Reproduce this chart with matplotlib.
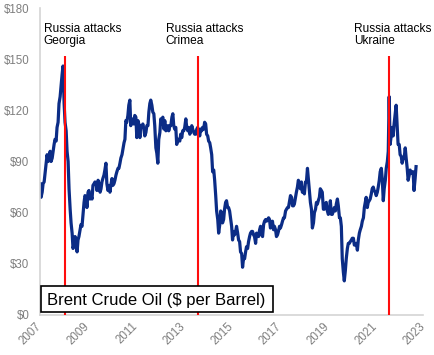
import matplotlib.pyplot as plt
import pandas as pd
from matplotlib.patches import Rectangle

brent_2007 = [77, 69, 72, 77, 78, 83, 89, 94, 90, 92]  # from August
brent_2008 = [96, 90, 92, 96, 100, 103, 102, 110, 113, 124, 128, 134,
              141, 146, 124, 113, 108, 96, 90, 74, 62, 54, 48, 39]
brent_2009 = [42, 46, 44, 37, 44, 46, 50, 53, 52, 58, 66, 70,
              69, 63, 72, 73, 68, 70, 68, 76, 77, 78, 77, 73]
brent_2010 = [79, 77, 72, 74, 78, 80, 82, 85, 89, 77, 73, 76,
              72, 76, 80, 76, 77, 79, 82, 84, 86, 86, 89, 92]
brent_2011 = [94, 97, 101, 103, 114, 113, 117, 123, 126, 111, 115, 113,
              112, 117, 116, 104, 114, 112, 104, 111, 110, 112, 109, 105]
brent_2012 = [107, 111, 111, 119, 124, 126, 123, 119, 118, 111, 98, 95,
              89, 103, 107, 115, 114, 116, 109, 114, 108, 109, 111, 108]
brent_2013 = [111, 111, 116, 118, 111, 109, 110, 100, 103, 103, 102, 106,
              104, 108, 108, 110, 115, 110, 108, 110, 106, 108, 111, 109]
brent_2014 = [107, 106, 106, 109, 110, 108, 105, 109, 108, 110, 109, 113,
              112, 106, 105, 102, 101, 98, 94, 84, 85, 79, 70, 61]
brent_2015 = [56, 48, 53, 61, 60, 54, 56, 62, 66, 67, 63, 63,
              61, 57, 52, 44, 49, 47, 49, 52, 48, 44, 43, 37]
brent_2016 = [36, 28, 34, 33, 37, 40, 39, 43, 46, 48, 49, 49,
              47, 46, 42, 48, 47, 46, 50, 52, 47, 46, 53, 55]
brent_2017 = [56, 55, 56, 57, 56, 51, 53, 55, 50, 52, 50, 46,
              47, 49, 52, 51, 53, 55, 57, 57, 61, 62, 63, 63]
brent_2018 = [67, 70, 69, 64, 64, 65, 69, 72, 75, 79, 77, 74,
              78, 72, 73, 71, 78, 78, 86, 80, 73, 66, 62, 51]
brent_2019 = [54, 60, 62, 66, 65, 67, 69, 74, 73, 72, 62, 62,
              65, 66, 61, 59, 60, 67, 59, 59, 61, 63, 61, 65]
brent_2020 = [68, 64, 57, 57, 52, 33, 25, 20, 26, 33, 39, 42,
              42, 43, 44, 45, 45, 41, 41, 42, 38, 44, 48, 50]
brent_2021 = [52, 55, 57, 63, 66, 69, 63, 66, 67, 68, 71, 74,
              75, 73, 72, 70, 72, 75, 79, 84, 86, 80, 67, 74]
brent_2022 = [79, 86, 90, 96, 128, 100, 105, 110, 105, 112, 118, 123,
              111, 100, 100, 94, 93, 89, 92, 92, 98, 92, 86, 79]
brent_2023 = [82, 85, 83, 84, 84, 73, 80, 87]  # to mid-April

events = ['Russia attacks\nGeorgia', 'Russia attacks\nCrimea',
          'Russia attacks\nUkraine']
event_dates = ['2008-08-08', '2014-02-27', '2022-02-24']

tick_years = [2007, 2009, 2011, 2013, 2015, 2017, 2019, 2021, 2023]
y_ticks = [0, 30, 60, 90, 120, 150, 180]

BLUE = '#0b2c86'
RED = '#ff0d0d'
GREY = '#7f7f7f'


def load_data():
    values = (brent_2007 + brent_2008 + brent_2009 + brent_2010 + brent_2011
              + brent_2012 + brent_2013 + brent_2014 + brent_2015
              + brent_2016 + brent_2017 + brent_2018 + brent_2019
              + brent_2020 + brent_2021 + brent_2022 + brent_2023)
    dates = pd.date_range('2007-08-01', periods=len(values), freq='SMS')
    return pd.Series(values, index=dates)


def plot_brent(ax):
    prices = load_data()
    ax.plot(prices.index, prices.values, color=BLUE, lw=2.3,
            solid_joinstyle='round')

    # event markers and their labels (text boxes nudged by hand, px)
    offsets = [-21, -32, -35]
    for name, day, dx in zip(events, event_dates, offsets):
        day = pd.Timestamp(day)
        ax.vlines(day, 0, 152, color=RED, lw=1.5, zorder=3)
        ax.annotate(name, xy=(day, 0.882), xycoords=('data', 'axes fraction'),
                    xytext=(dx * 0.72, 0), textcoords='offset points',
                    ha='left', va='baseline', fontsize=8.6, linespacing=1.04,
                    color='black')

    # the axis starts on the first date and ticks every two years from there
    start = pd.Timestamp('2007-07-30')
    ticks = [start + pd.DateOffset(years=y - 2007) for y in tick_years]
    ax.set_xticks(ticks)
    ax.set_xticklabels([str(y) for y in tick_years], rotation=45,
                       ha='right', va='center', rotation_mode='anchor')
    ax.set_xlim(ticks[0], ticks[-1])

    ax.set_yticks(y_ticks)
    ax.set_yticklabels(['$%d' % v for v in y_ticks])
    ax.set_ylim(0, 180)

    ax.tick_params(length=0, labelsize=8.3, labelcolor=GREY)
    ax.tick_params(axis='y', pad=7.5)
    ax.tick_params(axis='x', pad=7)
    for side in ['top', 'right']:
        ax.spines[side].set_visible(False)
    for side in ['left', 'bottom']:
        ax.spines[side].set_color('#d4d4d4')
        ax.spines[side].set_linewidth(1.2)

    # title box in the lower left corner
    box = Rectangle((0.003, 0.0098), 0.605, 0.085, transform=ax.transAxes,
                    fc='white', ec='black', lw=1.2, zorder=5)
    ax.add_patch(box)
    ax.text(0.019, 0.0326, 'Brent Crude Oil ($ per Barrel)',
            transform=ax.transAxes, ha='left', va='baseline', fontsize=12,
            zorder=6)


def plot():
    plt.rcParams['font.family'] = ['Liberation Sans', 'DejaVu Sans']
    fig = plt.figure(figsize=(4.35, 3.55), dpi=100)
    ax = fig.add_axes([40 / 435, 1 - 315 / 355, 383 / 435, 307 / 355])
    plot_brent(ax)
    fig.savefig('out.png', dpi=100)


if __name__ == '__main__':
    plot()
